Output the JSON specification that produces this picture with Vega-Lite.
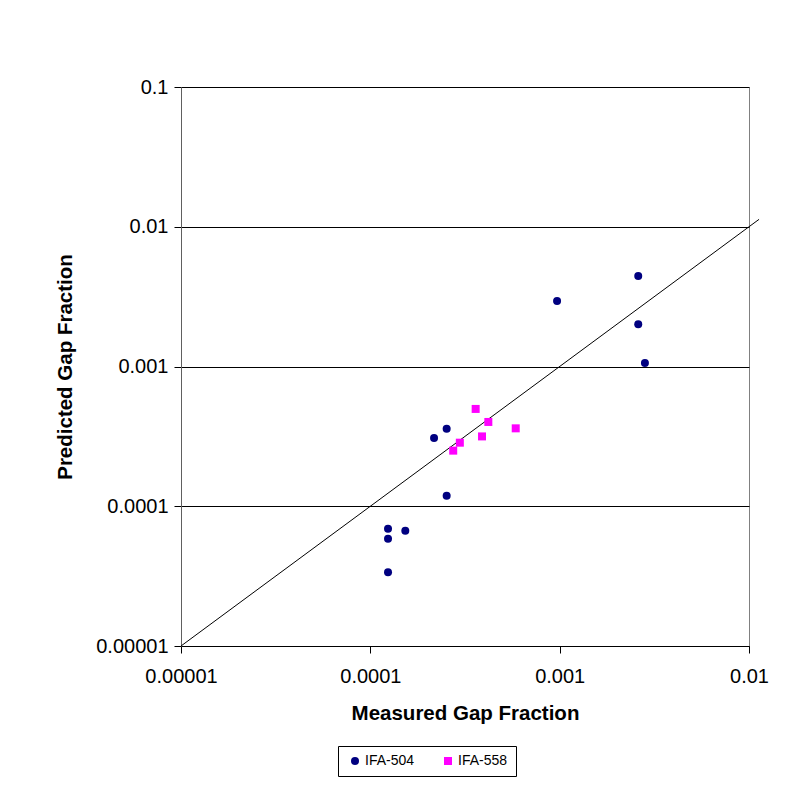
{
  "$schema": "https://vega.github.io/schema/vega-lite/v6.json",
  "width": 568,
  "height": 559,
  "autosize": {"type": "none"},
  "padding": {"left": 181, "top": 87, "right": 63, "bottom": 156},
  "background": "white",
  "config": {
    "font": "Liberation Sans",
    "view": {"stroke": "#808080", "strokeWidth": 1},
    "axis": {"labelFont": "Liberation Sans", "titleFont": "Liberation Sans", "labelFontSize": 20, "labelColor": "black", "titleColor": "black", "titleFontSize": 20.5, "titleFontWeight": "bold", "tickColor": "black", "domainColor": "black", "tickSize": 7}
  },
  "datasets": {
    "pts": [
      {"series": "IFA-504", "measured": 0.00260, "predicted": 0.00445},
      {"series": "IFA-504", "measured": 0.00260, "predicted": 0.00201},
      {"series": "IFA-504", "measured": 0.00282, "predicted": 0.00106},
      {"series": "IFA-504", "measured": 0.000969, "predicted": 0.00294},
      {"series": "IFA-504", "measured": 0.000217, "predicted": 0.000308},
      {"series": "IFA-504", "measured": 0.000253, "predicted": 0.000359},
      {"series": "IFA-504", "measured": 0.000253, "predicted": 0.000119},
      {"series": "IFA-504", "measured": 0.000124, "predicted": 0.0000690},
      {"series": "IFA-504", "measured": 0.000124, "predicted": 0.0000586},
      {"series": "IFA-504", "measured": 0.000153, "predicted": 0.0000668},
      {"series": "IFA-504", "measured": 0.000124, "predicted": 0.0000337},
      {"series": "IFA-558", "measured": 0.000360, "predicted": 0.000497},
      {"series": "IFA-558", "measured": 0.000420, "predicted": 0.000401},
      {"series": "IFA-558", "measured": 0.000586, "predicted": 0.000361},
      {"series": "IFA-558", "measured": 0.000389, "predicted": 0.000316},
      {"series": "IFA-558", "measured": 0.000297, "predicted": 0.000285},
      {"series": "IFA-558", "measured": 0.000274, "predicted": 0.000250}
    ],
    "diag": [
      {"measured": 0.00001, "predicted": 0.00001},
      {"measured": 0.0113, "predicted": 0.0113}
    ]
  },
  "layer": [
    {
      "data": {"name": "diag"},
      "mark": {"type": "line", "color": "black", "strokeWidth": 1, "clip": false},
      "encoding": {
        "x": {"field": "measured", "type": "quantitative", "scale": {"type": "log", "domain": [0.00001, 0.01], "nice": false}},
        "y": {"field": "predicted", "type": "quantitative", "scale": {"type": "log", "domain": [0.00001, 0.1], "nice": false}}
      }
    },
    {
      "data": {"name": "pts"},
      "mark": {"type": "point", "filled": true, "opacity": 1, "size": 64},
      "encoding": {
        "x": {"field": "measured", "type": "quantitative", "title": "Measured Gap Fraction",
          "scale": {"type": "log", "domain": [0.00001, 0.01], "nice": false},
          "axis": {"values": [0.00001, 0.0001, 0.001, 0.01], "labelExpr": "datum.value == 0.00001 ? '0.00001' : datum.value == 0.0001 ? '0.0001' : datum.value == 0.001 ? '0.001' : '0.01'", "grid": false, "labelPadding": 13, "titlePadding": 17, "labelFlush": false}},
        "y": {"field": "predicted", "type": "quantitative", "title": "Predicted Gap Fraction",
          "scale": {"type": "log", "domain": [0.00001, 0.1], "nice": false},
          "axis": {"values": [0.00001, 0.0001, 0.001, 0.01, 0.1], "labelExpr": "datum.value == 0.00001 ? '0.00001' : datum.value == 0.0001 ? '0.0001' : datum.value == 0.001 ? '0.001' : datum.value == 0.01 ? '0.01' : '0.1'", "grid": true, "gridColor": "black", "gridOpacity": 1, "domainColor": "#606060", "labelPadding": 6, "titlePadding": 20, "labelFlush": false}},
        "color": {"field": "series", "type": "nominal",
          "scale": {"domain": ["IFA-504", "IFA-558"], "range": ["#000080", "#FF00FF"]},
          "legend": {"title": null, "orient": "none", "legendX": 157, "legendY": 659, "direction": "horizontal", "strokeColor": "black", "padding": 8, "symbolOffset": 2, "labelFontSize": 14, "labelFont": "Liberation Sans", "labelColor": "black", "symbolSize": 64, "columnPadding": 24, "labelOffset": 3}},
        "shape": {"field": "series", "type": "nominal",
          "scale": {"domain": ["IFA-504", "IFA-558"], "range": ["circle", "square"]}}
      }
    }
  ]
}
